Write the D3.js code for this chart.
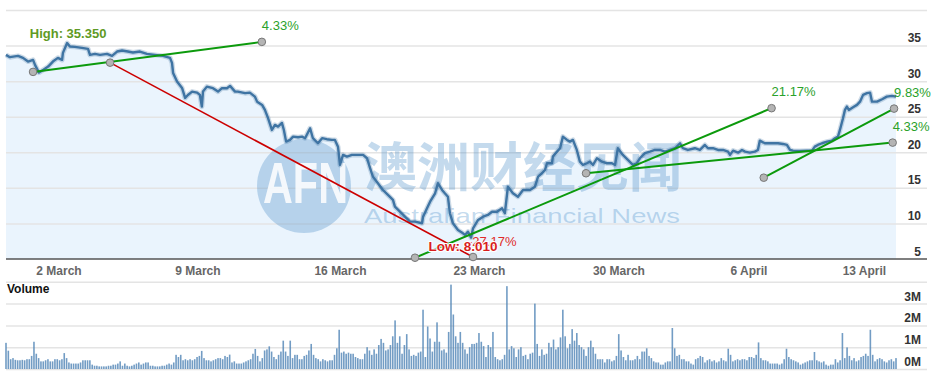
<!DOCTYPE html>
<html><head><meta charset="utf-8">
<script src="https://cdn.jsdelivr.net/npm/d3@7"></script>
<style>
html,body{margin:0;padding:0;background:#fff;}
svg{display:block;font-family:Arial,"Liberation Sans",sans-serif;}
</style></head>
<body><svg id="chart" width="939" height="375"></svg>
<script>
// ---------- DATA ----------
// price series: [time index, price]
const priceSeries = [[0,33.69],[1.4,33.37],[4.3,33.55],[6.1,33.27],[7.9,32.75],[9.7,32.99],[10.4,32.29],[11.8,31.2],[13.3,31.58],[15.1,32.05],[16.8,32.75],[18.6,33.27],[20.1,32.99],[20.4,33.97],[21.9,35.35],[22.9,34.86],[24.7,34.82],[27.2,34.68],[29.4,34.54],[30.1,33.69],[31.9,33.83],[33.7,33.69],[36.2,33.83],[38.0,33.55],[39.8,34.16],[41.6,34.30],[43.7,34.16],[45.5,34.02],[48.0,34.16],[50.5,33.83],[53.4,33.69],[56.3,33.55],[58.8,33.27],[59.5,32.57],[59.9,31.16],[61.3,29.94],[63.1,29.05],[64.2,27.64],[65.2,28.06],[66.7,28.53],[68.5,28.39],[69.5,28.06],[70.2,26.42],[70.6,28.53],[72.0,29.23],[74.2,29.01],[76.0,28.53],[77.4,29.01],[79.2,29.01],[80.3,29.33],[82.1,28.53],[83.1,28.53],[85.7,28.31],[87.4,28.39],[89.2,27.83],[90.0,27.12],[91.8,26.66],[92.8,25.96],[93.9,24.83],[95.3,23.14],[96.4,23.85],[97.5,23.61],[98.9,24.13],[99.6,23.14],[100.4,21.50],[101.8,21.74],[102.9,22.20],[104.7,22.12],[106.1,22.20],[107.2,21.98],[109.0,23.38],[110.0,21.98],[111.8,21.27],[113.3,21.98],[115.0,21.84],[116.8,21.74],[117.9,21.74],[119.0,20.79],[119.7,18.22],[120.8,19.63],[122.2,19.39],[124.0,19.63],[126.2,19.63],[128.0,19.63],[129.4,19.16],[130.5,17.76],[131.5,16.58],[133.3,15.65],[135.1,14.70],[136.9,14.00],[138.7,13.30],[139.4,12.36],[141.2,11.65],[143.0,10.95],[144.8,10.25],[146.6,10.25],[149.1,10.02],[149.5,10.95],[150.9,12.13],[152.0,13.06],[153.8,14.24],[154.8,15.65],[156.3,14.70],[157.3,14.24],[158.4,13.76],[159.1,11.43],[160.2,10.02],[162.0,9.08],[163.8,8.61],[164.5,8.38],[165.6,8.84],[166.7,8.01],[167.4,9.32],[169.2,10.49],[171.0,10.95],[172.7,11.19],[174.2,11.65],[176.0,11.65],[177.8,12.13],[178.8,11.43],[179.9,15.17],[181.7,14.24],[183.5,13.76],[185.3,14.70],[187.8,14.70],[189.6,15.17],[190.7,16.58],[192.1,17.05],[193.2,17.52],[193.9,18.46],[195.7,18.46],[196.0,19.39],[197.5,20.09],[198.6,20.57],[199.6,22.20],[201.1,21.74],[202.1,21.50],[203.2,21.74],[204.6,20.33],[205.7,18.68],[206.8,18.22],[208.2,18.46],[209.3,18.68],[210.4,18.22],[211.8,19.16],[213.6,18.68],[215.4,18.46],[217.2,18.46],[218.3,18.22],[219.3,20.57],[221.1,19.63],[222.9,18.92],[224.7,18.22],[226.1,18.46],[227.2,19.16],[229.0,19.87],[230.8,20.09],[232.6,20.33],[234.4,20.33],[236.2,20.09],[238.0,20.33],[239.8,20.57],[241.6,21.27],[242.6,20.57],[244.4,20.33],[246.9,20.57],[248.7,20.33],[250.5,21.03],[251.6,20.57],[253.4,20.57],[255.2,20.33],[257.0,20.33],[258.8,20.09],[259.5,19.63],[260.6,20.23],[262.4,19.95],[263.8,20.33],[264.9,20.09],[266.6,19.95],[268.4,20.09],[269.5,20.33],[270.2,21.64],[272.0,21.27],[274.5,21.27],[276.7,21.27],[278.5,21.17],[279.9,21.03],[281.0,20.33],[282.1,20.23],[284.6,20.19],[287.1,20.23],[288.9,20.23],[289.9,20.79],[291.0,21.03],[292.5,21.27],[294.3,21.50],[296.0,21.64],[297.1,21.98],[298.2,22.20],[298.9,23.14],[300.0,24.79],[300.7,25.96],[301.4,26.42],[302.1,25.96],[303.6,26.34],[305.0,26.66],[306.1,27.12],[307.2,28.07],[308.6,28.31],[309.7,28.39],[310.4,27.12],[312.2,27.12],[314.0,27.46],[315.7,27.83],[317.5,27.93],[319,27.83]];

// volume in millions, one bar per period
const volume = [
1.2,0.84,0.45,0.5,0.42,0.4,0.4,0.42,0.4,0.45,0.45,0.6,1.25,0.7,0.5,0.35,0.35,0.4,0.45,0.35,0.35,0.45,0.45,0.4,0.45,0.73,0.5,0.3,0.25,0.25,0.25,0.25,0.3,0.4,0.4,0.4,0.4,0.2,0.15,0.15,0.12,0.12,0.12,0.12,0.15,0.15,0.2,0.2,0.25,0.35,0.15,0.25,0.15,0.12,0.15,0.2,0.25,0.3,0.2,0.25,0.3,0.3,0.15,0.15,0.12,0.12,0.12,0.15,0.15,0.2,0.25,0.2,0.3,0.65,0.55,0.65,0.4,0.45,0.4,0.45,0.4,0.45,0.55,0.6,0.83,0.5,0.4,0.4,0.35,0.4,0.45,0.5,0.5,0.45,0.6,0.55,
0.66,0.3,0.35,0.25,0.25,0.25,0.3,0.35,0.4,0.45,0.7,0.92,0.6,0.35,0.5,0.85,0.9,1.04,0.8,0.55,0.45,0.65,0.8,1.3,0.8,0.6,1.3,0.5,0.65,0.65,0.45,0.45,0.6,0.65,0.85,1.15,0.65,0.5,0.45,0.35,0.45,0.4,0.35,0.4,0.4,0.65,0.95,1.8,0.75,0.8,0.7,0.75,0.7,0.7,0.55,0.5,0.45,0.45,0.7,1.0,0.85,0.65,0.9,0.7,1.1,1.38,1.2,0.85,0.9,1.1,1.5,2.23,1.2,1.5,0.7,1.1,1.6,0.9,0.6,0.65,0.6,0.75,0.8,2.72,0.55,1.95,1.4,0.8,1.25,2.14,1.25,0.85,0.9,0.75,1.7,3.87,2.5,1.5,1.2,1.7,1.2,
0.9,0.7,1.0,1.15,1.15,1.2,1.65,1.25,1.05,0.55,1.1,1.0,1.7,0.55,0.45,0.4,0.45,0.65,3.8,0.9,1.05,0.95,0.55,0.9,1.0,0.6,0.65,0.45,0.7,0.75,3.0,1.15,0.6,0.9,0.65,0.7,1.2,1.0,1.35,0.9,1.0,1.45,2.72,1.5,0.95,1.15,1.83,1.3,1.65,1.1,1.0,0.9,0.6,1.0,1.3,1.0,0.7,0.45,0.45,0.45,0.3,0.45,0.45,0.35,0.4,0.6,1.6,0.85,0.55,0.4,0.65,0.4,0.4,0.45,0.6,0.45,0.8,0.8,0.95,0.6,0.5,0.35,0.3,0.3,0.2,0.2,0.3,0.35,0.35,1.88,0.95,0.6,0.65,0.45,0.45,0.35,0.35,0.25,0.2,
0.45,0.5,0.6,0.55,0.3,0.4,0.45,0.35,0.4,0.3,0.35,0.5,0.4,0.35,0.93,0.65,0.35,0.4,0.45,0.4,0.45,0.45,0.4,0.55,0.55,0.5,0.65,1.22,0.5,0.4,0.4,0.35,0.25,0.25,0.25,0.25,0.2,0.25,0.45,0.93,0.55,0.45,0.4,0.35,0.3,0.2,0.25,0.3,0.35,0.4,0.4,0.78,0.4,0.35,0.3,0.35,0.2,0.15,0.2,0.2,0.45,0.3,0.4,1.65,0.5,0.99,0.6,0.4,0.5,0.35,0.4,0.55,0.6,0.7,0.6,1.8,0.65,0.35,0.45,0.5,0.45,0.35,0.3,0.4,0.45,0.35,0.5];

const priceTicks = [5,10,15,20,25,30,35];
const priceGrid = [10,15,20,25,30,35,40];
const volumeTicks = [0,1,2,3];
const volumeGrid = [0,1,2,3,4];
const dateTicks = [18.8,68.6,119.7,169.5,219.5,266.1,307.5];
const dateLabels = ["2 March","9 March","16 March","23 March","30 March","6 April","13 April"];

// trend lines: [time, price] endpoints
const trendGreen = [
  {from:[9.7,31.30], to:[91.7,35.52], label:"4.33%"},
  {from:[146.6,5.18], to:[274.4,26.2], label:"21.17%"},
  {from:[207.9,17.05], to:[317.8,21.36], label:"4.33%"},
  {from:[271.6,16.43], to:[318.3,26.14], label:"9.83%"}
];
const trendRed = [{from:[37.3,32.6], to:[167.4,5.28], label:"-27.17%"}];
const highPoint = {t:21.9, v:35.35, label:"High: 35.350"};
const lowPoint = {t:166.7, v:8.01, label:"Low: 8.010"};

// ---------- CHART ----------
const svg = d3.select("#chart");
const X0 = 6, X1 = 896, XR = 927;
const xT = d3.scaleLinear().domain([0,319]).range([X0,X1]);
const xV = d3.scaleLinear().domain([0,volume.length-1]).range([X0,X1]);
const yP = d3.scaleLinear().domain([5,40]).range([259,10]);
const yV = d3.scaleLinear().domain([0,4]).range([369,281.8]);

// area fill
svg.append("path").datum(priceSeries)
  .attr("d", d3.area().x(d=>xT(d[0])).y0(yP(5)).y1(d=>yP(d[1])))
  .attr("fill","#eaf4fd");

// gridlines price
const gridP = d3.axisRight(yP).tickValues(priceGrid).tickSize(XR-X0).tickFormat("");
svg.append("g").attr("transform",`translate(${X0},0)`).call(gridP)
  .call(g=>g.select(".domain").remove())
  .call(g=>g.selectAll("line").attr("stroke","#e4e4e4").attr("stroke-width",1.5));
// gridlines volume
const gridV = d3.axisRight(yV).tickValues(volumeGrid).tickSize(XR-X0).tickFormat("");
svg.append("g").attr("transform",`translate(${X0},0)`).call(gridV)
  .call(g=>g.select(".domain").remove())
  .call(g=>g.selectAll("line").attr("stroke","#e4e4e4").attr("stroke-width",1.5));

// watermark
const wm = svg.append("g").attr("pointer-events","none");
wm.append("circle").attr("cx",304).attr("cy",186).attr("r",47).attr("fill","rgba(70,140,200,0.32)");
wm.append("text").attr("x",263).attr("y",203).attr("textLength",85).attr("lengthAdjust","spacingAndGlyphs")
  .attr("font-size",58).attr("font-weight","bold").attr("fill","rgba(255,255,255,0.85)").text("AFN");
wm.append("text").attr("x",364).attr("y",187).attr("textLength",318).attr("lengthAdjust","spacingAndGlyphs")
  .attr("font-family","'Noto Sans CJK SC',sans-serif").attr("font-weight","bold").attr("font-size",53)
  .attr("fill","rgba(70,140,200,0.32)").text("澳洲财经见闻");
wm.append("text").attr("x",364).attr("y",223).attr("textLength",316).attr("lengthAdjust","spacingAndGlyphs")
  .attr("font-size",21).attr("fill","rgba(70,140,200,0.32)").text("Australian Financial News");

// axis line
svg.append("line").attr("x1",X0).attr("x2",XR).attr("y1",yP(5)).attr("y2",yP(5))
  .attr("stroke","#555").attr("stroke-width",1.5);

// price line (shadow + line)
const line = d3.line().x(d=>xT(d[0])).y(d=>yP(d[1]));
svg.append("path").datum(priceSeries).attr("d",line).attr("fill","none")
  .attr("stroke","rgba(60,110,160,0.25)").attr("stroke-width",5).attr("stroke-linejoin","round");
svg.append("path").datum(priceSeries).attr("d",line).attr("fill","none")
  .attr("stroke","#3f74a3").attr("stroke-width",2.4).attr("stroke-linejoin","round");

// trend lines
function drawTrend(list,color,w){
  svg.append("g").selectAll("line").data(list).join("line")
    .attr("x1",d=>xT(d.from[0])).attr("y1",d=>yP(d.from[1]))
    .attr("x2",d=>xT(d.to[0])).attr("y2",d=>yP(d.to[1]))
    .attr("stroke",color).attr("stroke-width",w);
}
drawTrend(trendRed,"#cc0000",1.6);
drawTrend(trendGreen,"#0c9a0c",2);

// handles
const handles = [];
trendGreen.forEach(d=>{handles.push(d.from,d.to);});
trendRed.forEach(d=>{handles.push(d.from,d.to);});
svg.append("g").selectAll("circle").data(handles).join("circle")
  .attr("cx",d=>xT(d[0])).attr("cy",d=>yP(d[1])).attr("r",3.8)
  .attr("fill","#b4b4b4").attr("stroke","#777").attr("stroke-width",1);

// percent labels
svg.append("g").selectAll("text").data(trendGreen).join("text")
  .attr("x",d=>xT(d.to[0])).attr("y",d=>yP(d.to[1])-12)
  .attr("font-size",13).attr("fill","#2aa12a").text(d=>d.label);
svg.append("g").selectAll("text").data(trendRed).join("text")
  .attr("x",d=>xT(d.to[0])-5).attr("y",d=>yP(d.to[1])-11)
  .attr("font-size",13).attr("fill","#e02a2a").text(d=>d.label);

// high / low labels
svg.append("text").attr("x",xT(highPoint.t)+1).attr("y",yP(highPoint.v)-5)
  .attr("text-anchor","middle").attr("font-size",13).attr("font-weight","bold")
  .attr("fill","#5f9a24").text(highPoint.label);
svg.append("text").attr("x",xT(lowPoint.t)-8).attr("y",yP(lowPoint.v)+13)
  .attr("text-anchor","middle").attr("font-size",13.5).attr("font-weight","bold")
  .attr("fill","#d81e1e").attr("stroke","#fff").attr("stroke-width",2).attr("paint-order","stroke")
  .text(lowPoint.label);

// price axis labels
svg.append("g").attr("transform","translate(921,0)")
  .call(d3.axisLeft(yP).tickValues(priceTicks).tickSize(0).tickPadding(0))
  .call(g=>g.select(".domain").remove())
  .call(g=>g.selectAll("text").attr("dy",-4).attr("font-size",12).attr("font-weight","bold")
    .attr("fill","#333").attr("font-family","Arial,'Liberation Sans',sans-serif"));

// date axis
svg.append("g").attr("transform",`translate(0,${yP(5)})`)
  .call(d3.axisBottom(xT).tickValues(dateTicks).tickFormat((d,i)=>dateLabels[i]).tickSize(0).tickPadding(0))
  .call(g=>g.select(".domain").remove())
  .call(g=>g.selectAll("text").attr("y",16).attr("dy",0).attr("font-size",12).attr("font-weight","bold")
    .attr("fill","#666").attr("font-family","Arial,'Liberation Sans',sans-serif"));

// volume bars
svg.append("g").selectAll("rect").data(volume).join("rect")
  .attr("x",(d,i)=>xV(i)-0.8).attr("width",1.6)
  .attr("y",d=>yV(d)).attr("height",d=>yV(0)-yV(d))
  .attr("fill","#4f83b5").attr("fill-opacity",0.8);

// volume labels
svg.append("g").attr("transform","translate(921,0)")
  .call(d3.axisLeft(yV).tickValues(volumeTicks).tickFormat(d=>d+"M").tickSize(0).tickPadding(0))
  .call(g=>g.select(".domain").remove())
  .call(g=>g.selectAll("text").attr("dy",-3.5).attr("font-size",12).attr("font-weight","bold")
    .attr("fill","#333").attr("font-family","Arial,'Liberation Sans',sans-serif"));

svg.append("text").attr("x",7).attr("y",293).attr("font-size",12).attr("font-weight","bold")
  .attr("fill","#111").text("Volume");
</script></body></html>
